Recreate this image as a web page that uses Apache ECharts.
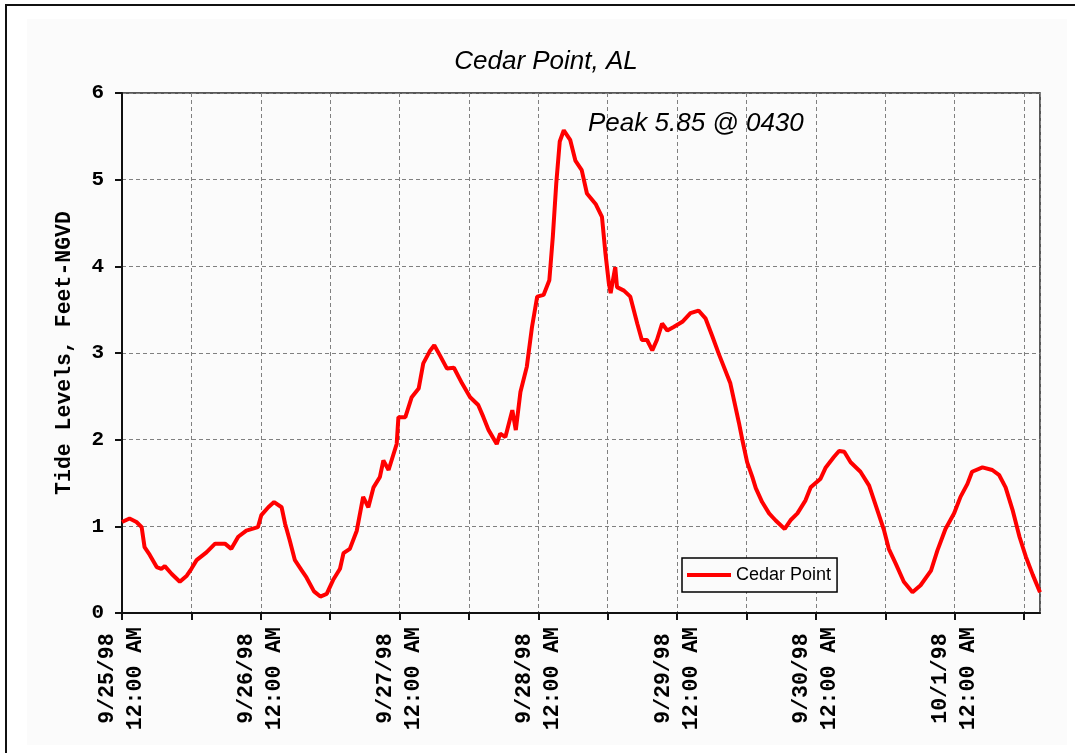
<!DOCTYPE html>
<html>
<head>
<meta charset="utf-8">
<script src="https://cdn.jsdelivr.net/npm/echarts@6/dist/echarts.min.js"></script>
<style>
  html, body { margin: 0; padding: 0; background: #fff; }
  #main { width: 1075px; height: 753px; }
</style>
</head>
<body>
<div id="main"></div>
<script>
var myChart = echarts.init(document.getElementById('main'));

// hours since 9/25/98 12:00 AM
var hours = [
  0, 1.3, 2.5, 3.4, 3.9, 4.8, 6.0, 6.8, 7.4, 8.6, 10.0, 11.2, 12.0, 12.9, 14.6, 16.1, 17.8, 18.9, 20.1, 21.5, 23.5,
  24.1, 25.3, 26.3, 27.6, 28.2, 29.0, 29.9, 31.1, 31.9, 33.2, 34.3, 35.4, 36.5, 37.7, 38.3, 39.4, 40.6, 41.7, 42.6,
  43.5, 44.6, 45.2, 46.1, 47.5, 47.8, 49.0, 50.1, 51.3, 52.1, 53.3, 54.0, 55.0, 56.2, 57.4, 58.8, 60.2, 61.6, 62.5,
  63.4, 64.8, 65.4, 66.3, 67.5, 68.1, 68.9, 70.0, 70.9, 71.8, 72.9, 73.9, 74.5, 75.1, 75.7, 76.4, 77.5, 78.4, 79.5,
  80.4, 81.9, 83.0, 83.6, 84.2, 84.5, 85.3, 85.6, 86.8, 87.9, 89.1, 89.9, 90.8, 91.7, 92.5, 93.4, 94.3, 95.4, 96.9,
  98.3, 99.7, 100.9, 102.1, 103.2, 105.2, 106.7, 107.3, 108.1, 109.0, 109.6, 110.7, 111.9, 113.0, 114.6, 115.6,
  116.8, 118.2, 119.1, 120.8, 121.7, 123.1, 124.0, 124.9, 126.0, 127.7, 129.2, 130.3, 131.8, 132.6, 133.8, 135.2,
  136.7, 138.1, 139.9, 141.0, 142.4, 143.9, 145.0, 146.2, 147.0, 148.8, 150.5, 151.7, 152.8, 154.0, 155.2, 156.3,
  157.5, 158.75
];
// tide level, feet NGVD
var levels = [
  1.05, 1.09, 1.05, 0.99, 0.76, 0.67, 0.53, 0.51, 0.54, 0.45, 0.36, 0.43, 0.51, 0.61, 0.70, 0.80, 0.80, 0.74, 0.88, 0.95, 0.99,
  1.13, 1.22, 1.28, 1.22, 1.03, 0.84, 0.61, 0.49, 0.41, 0.25, 0.19, 0.22, 0.38, 0.51, 0.69, 0.74, 0.95, 1.34, 1.22,
  1.45, 1.57, 1.76, 1.65, 1.95, 2.26, 2.26, 2.49, 2.59, 2.88, 3.03, 3.09, 2.97, 2.82, 2.83, 2.65, 2.49, 2.40, 2.26,
  2.11, 1.95, 2.07, 2.03, 2.34, 2.11, 2.55, 2.84, 3.30, 3.65, 3.67, 3.84, 4.34, 4.96, 5.44, 5.57, 5.46, 5.22, 5.11,
  4.84, 4.72, 4.57, 4.15, 3.80, 3.69, 3.99, 3.76, 3.72, 3.65, 3.34, 3.15, 3.15, 3.03, 3.15, 3.34, 3.26, 3.30, 3.36,
  3.46, 3.49, 3.40, 3.19, 2.99, 2.65, 2.19, 1.99, 1.74, 1.57, 1.44, 1.28, 1.15, 1.07, 0.97, 1.07,
  1.15, 1.30, 1.45, 1.55, 1.68, 1.80, 1.87, 1.86, 1.74, 1.63, 1.47, 1.25, 0.95, 0.74, 0.57, 0.36,
  0.24, 0.32, 0.49, 0.72, 0.97, 1.15, 1.34, 1.49, 1.63, 1.68, 1.65, 1.59, 1.45, 1.19, 0.88, 0.65,
  0.44, 0.24
];
var dayLabels = ['9/25/98', '9/26/98', '9/27/98', '9/28/98', '9/29/98', '9/30/98', '10/1/98'];
var timeLabel = '12:00 AM';

var seriesData = hours.map(function (h, i) { return [h, levels[i]]; });

var mono = 'Liberation Mono';
var sans = 'Liberation Sans';

option = {
    backgroundColor: '#fff',
    animation: false,
    title: {
        text: 'Cedar Point, AL',
        left: 541,
        top: 44,
        textAlign: 'center',
        textStyle: {
            fontFamily: sans,
            fontStyle: 'italic',
            fontWeight: 'normal',
            fontSize: 26,
            color: '#000'
        }
    },
    graphic: [
        {
            type: 'rect',
            z: -10,
            shape: { x: 6, y: 5, width: 1200, height: 900 },
            style: { fill: '#fff', stroke: '#111', lineWidth: 2 }
        },
        {
            type: 'rect',
            z: -9,
            shape: { x: 27, y: 19, width: 1040, height: 726 },
            style: { fill: '#fbfbfb' }
        },
        {
            type: 'text',
            left: 588,
            top: 111,
            z: 10,
            style: {
                text: 'Peak 5.85 @ 0430',
                fontFamily: sans,
                fontStyle: 'italic',
                fontSize: 26,
                fill: '#000'
            }
        }
    ],
    legend: {
        left: 682,
        top: 558,
        orient: 'vertical',
        backgroundColor: '#fbfbfb',
        borderColor: '#000',
        borderWidth: 1.5,
        padding: [8, 6, 8, 5],
        icon: 'rect',
        itemWidth: 44,
        itemHeight: 4,
        textStyle: { fontFamily: sans, fontSize: 18, color: '#000' },
        data: ['Cedar Point']
    },
    grid: {
        left: 122,
        top: 93,
        right: 35,
        bottom: 140,
        show: true,
        borderColor: '#222',
        borderWidth: 1.5,
        backgroundColor: 'transparent'
    },
    xAxis: {
        type: 'value',
        min: 0,
        max: 158.75,
        interval: 12,
        axisLine: { show: true, onZero: false, lineStyle: { color: '#111', width: 2 } },
        axisTick: { show: true, length: 7, lineStyle: { color: '#111', width: 2 } },
        splitLine: { show: true, lineStyle: { color: '#808080', width: 1, type: [4, 3] } },
        axisLabel: {
            rotate: 90,
            margin: 14,
            showMaxLabel: false,
            formatter: function (v) {
                if (v % 24 !== 0) return '';
                return '{d|' + dayLabels[v / 24] + '}\n{t|' + timeLabel + '}';
            },
            rich: {
                d: { fontFamily: mono, fontWeight: 'bold', fontSize: 21.5, color: '#000', align: 'center', lineHeight: 28 },
                t: { fontFamily: mono, fontWeight: 'bold', fontSize: 21.5, color: '#000', align: 'center', lineHeight: 28 }
            }
        }
    },
    yAxis: {
        type: 'value',
        min: 0,
        max: 6,
        interval: 1,
        name: 'Tide Levels, Feet-NGVD',
        nameLocation: 'middle',
        nameGap: 46,
        nameTextStyle: { fontFamily: mono, fontWeight: 'bold', fontSize: 21.5, color: '#000' },
        axisLine: { show: true, lineStyle: { color: '#111', width: 2 } },
        axisTick: { show: true, length: 7, lineStyle: { color: '#111', width: 2 } },
        splitLine: { show: true, lineStyle: { color: '#808080', width: 1, type: [4, 3] } },
        axisLabel: {
            margin: 18,
            fontFamily: mono,
            fontWeight: 'bold',
            fontSize: 21,
            color: '#000'
        }
    },
    series: [
        {
            name: 'Cedar Point',
            type: 'line',
            data: seriesData,
            showSymbol: false,
            symbol: 'none',
            itemStyle: { color: '#ff0000' },
            lineStyle: { color: '#ff0000', width: 4 }
        }
    ]
};
myChart.setOption(option);
</script>
</body>
</html>
